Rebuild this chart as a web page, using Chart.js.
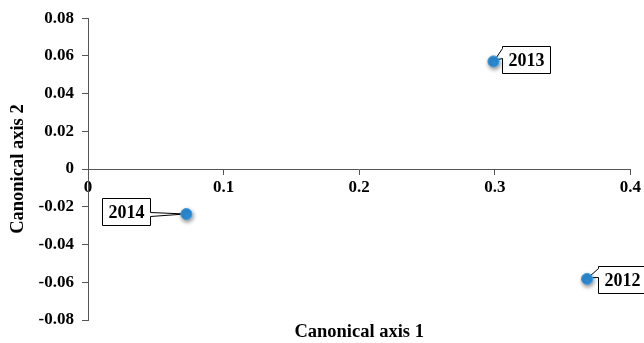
<!DOCTYPE html>
<html>
<head>
<meta charset="utf-8">
<script src="https://cdn.jsdelivr.net/npm/chart.js@4"></script>
<style>
  html, body { margin: 0; padding: 0; background: #ffffff; }
  #wrap { width: 644px; height: 343px; position: relative; }
</style>
</head>
<body>
<div id="wrap"><canvas id="chart" width="644" height="343"></canvas></div>
<script>
// Canonical scores per year
const yearLabels = ['2012', '2013', '2014'];
const canonicalAxis1 = [0.368, 0.299, 0.0725];
const canonicalAxis2 = [-0.0582, 0.0571, -0.0238];

// Axis ranges and tick labels
const xTickValues = [0, 0.1, 0.2, 0.3, 0.4];
const xTickLabels = ['0', '0.1', '0.2', '0.3', '0.4'];
const yTickValues = [-0.08, -0.06, -0.04, -0.02, 0, 0.02, 0.04, 0.06, 0.08];
const yTickLabels = ['-0.08', '-0.06', '-0.04', '-0.02', '0', '0.02', '0.04', '0.06', '0.08'];

const serif = "'Liberation Serif', 'Times New Roman', serif";
const axisColor = '#555555';

function labelFor(values, labels, v) {
  const i = values.findIndex(t => Math.abs(t - v) < 1e-9);
  return i >= 0 ? labels[i] : '';
}

// Boxed year callouts with a wedge pointing at each marker
const calloutPlugin = {
  id: 'callouts',
  beforeDatasetsDraw(chart, args, opts) {
    const meta = chart.getDatasetMeta(0);
    const ctx = chart.ctx;
    ctx.save();
    ctx.font = 'bold 18px ' + serif;
    ctx.lineWidth = 1;
    ctx.strokeStyle = '#000000';
    meta.data.forEach((pt, i) => {
      const p = opts.placement[i];
      const text = yearLabels[i];
      const w = Math.round(ctx.measureText(text).width + 2 * opts.padX);
      const h = opts.height;
      const left = Math.round(pt.x + p.dx) + 0.5;
      const top = Math.round(pt.y + p.dy) + 0.5;
      const right = left + w, bottom = top + h;
      const tipX = pt.x + p.tipDx, tipY = pt.y + p.tipDy;
      ctx.beginPath();
      ctx.moveTo(left, top);
      ctx.lineTo(right, top);
      if (p.side === 'right') {
        ctx.lineTo(right, top + p.a);
        ctx.lineTo(tipX, tipY);
        ctx.lineTo(right, top + p.b);
      }
      ctx.lineTo(right, bottom);
      ctx.lineTo(left, bottom);
      if (p.side === 'left') {
        ctx.lineTo(left, top + p.b);
        ctx.lineTo(tipX, tipY);
        ctx.lineTo(left, top + p.a);
      }
      ctx.closePath();
      ctx.fillStyle = '#ffffff';
      ctx.fill();
      ctx.stroke();
      ctx.fillStyle = '#000000';
      ctx.textAlign = 'center';
      ctx.textBaseline = 'middle';
      ctx.fillText(text, (left + right) / 2, top + h / 2 + 1);
    });
    ctx.restore();
  }
};

// Soft drop shadow under the markers
const shadowPlugin = {
  id: 'markerShadow',
  beforeDatasetDraw(chart) {
    const ctx = chart.ctx;
    ctx.save();
    ctx.shadowColor = 'rgba(0,0,0,0.45)';
    ctx.shadowBlur = 4;
    ctx.shadowOffsetX = 1;
    ctx.shadowOffsetY = 2;
  },
  afterDatasetDraw(chart) {
    chart.ctx.restore();
  }
};

const points = canonicalAxis1.map((x, i) => ({ x: x, y: canonicalAxis2[i] }));

new Chart(document.getElementById('chart'), {
  type: 'scatter',
  data: {
    labels: yearLabels,
    datasets: [{
      data: points,
      pointRadius: 5.5,
      pointHoverRadius: 5.5,
      pointBackgroundColor: '#2b8cd6',
      pointBorderColor: '#3a9be0',
      pointBorderWidth: 1
    }]
  },
  options: {
    responsive: false,
    animation: false,
    events: [],
    layout: { padding: { top: 17, right: 13, bottom: 0, left: 0 } },
    plugins: {
      legend: { display: false },
      tooltip: { enabled: false },
      callouts: {
        padX: 6,
        height: 27,
        placement: [
          { dx: 11, dy: -13, side: 'left', a: 2, b: 11, tipDx: 1, tipDy: -1 },
          { dx: 9, dy: -15, side: 'left', a: 2, b: 12, tipDx: 1, tipDy: -1 },
          { dx: -84, dy: -16, side: 'right', a: 14, b: 18, tipDx: -1, tipDy: 0 }
        ]
      }
    },
    scales: {
      x: {
        type: 'linear',
        position: { y: 0 },
        min: 0,
        max: 0.4,
        afterBuildTicks: (scale) => { scale.ticks = xTickValues.map(v => ({ value: v })); },
        ticks: {
          padding: 3,
          color: '#000000',
          font: { family: serif, size: 17, weight: 'bold' },
          maxRotation: 0,
          callback: (v) => labelFor(xTickValues, xTickLabels, v)
        },
        grid: { drawOnChartArea: false, drawTicks: true, tickLength: 5, color: axisColor },
        border: { display: true, color: axisColor, width: 1 },
        title: { display: false }
      },
      x2: {
        type: 'linear',
        position: 'bottom',
        min: 0,
        max: 0.4,
        afterFit: (scale) => { scale.height = 23; },
        ticks: { display: false },
        grid: { display: false, drawTicks: false },
        border: { display: false },
        title: {
          display: true,
          text: 'Canonical axis 1',
          color: '#000000',
          font: { family: serif, size: 18.5, weight: 'bold' },
          padding: { top: 0, bottom: 0 }
        }
      },
      y: {
        type: 'linear',
        position: 'left',
        min: -0.08,
        max: 0.08,
        afterFit: (scale) => { scale.width = 88; },
        afterBuildTicks: (scale) => { scale.ticks = yTickValues.map(v => ({ value: v })); },
        ticks: {
          padding: 8,
          color: '#000000',
          font: { family: serif, size: 17, weight: 'bold' },
          callback: (v) => labelFor(yTickValues, yTickLabels, v)
        },
        grid: { drawOnChartArea: false, drawTicks: true, tickLength: 6, color: axisColor },
        border: { display: true, color: axisColor, width: 1 },
        title: {
          display: true,
          text: 'Canonical axis 2',
          color: '#000000',
          font: { family: serif, size: 18.5, weight: 'bold' },
          padding: { top: 7, bottom: 0 }
        }
      }
    }
  },
  plugins: [calloutPlugin, shadowPlugin]
});
</script>
</body>
</html>
